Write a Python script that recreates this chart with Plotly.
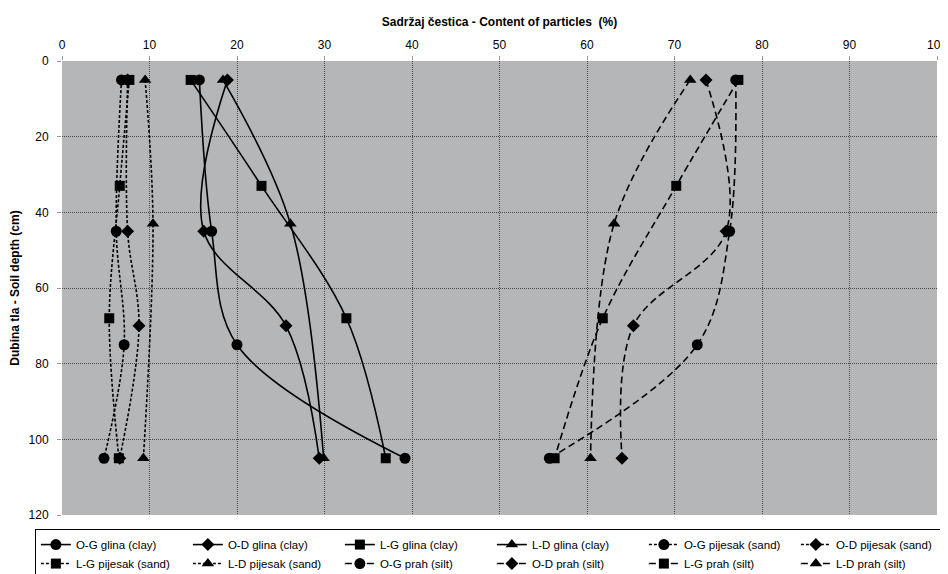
import plotly.graph_objects as go

# depths (cm) for each profile
depth_OG = [5, 45, 75, 105]
depth_OD = [5, 45, 70, 105]
depth_LG = [5, 33, 68, 105]
depth_LD = [5, 43, 105]

# clay (glina) %
clay_OG = [15.7, 17.1, 20.0, 39.2]
clay_OD = [18.9, 16.2, 25.6, 29.4]
clay_LG = [14.7, 22.8, 32.5, 37.0]
clay_LD = [18.4, 26.1, 29.9]

# sand (pijesak) %
sand_OG = [6.8, 6.2, 7.1, 4.8]
sand_OD = [7.5, 7.5, 8.8, 6.6]
sand_LG = [7.7, 6.6, 5.4, 6.5]
sand_LD = [9.5, 10.4, 9.3]

# silt (prah) %
silt_OG = [77.0, 76.3, 72.6, 55.7]
silt_OD = [73.6, 75.9, 65.3, 64.0]
silt_LG = [77.3, 70.2, 61.8, 56.3]
silt_LD = [71.8, 63.1, 60.4]

x_ticks = [0, 10, 20, 30, 40, 50, 60, 70, 80, 90, 100]
y_ticks = [0, 20, 40, 60, 80, 100, 120]

FONT = "Liberation Sans, Arial, sans-serif"

series = [
    ("O-G glina (clay)", clay_OG, depth_OG, "circle", "solid"),
    ("O-D glina (clay)", clay_OD, depth_OD, "diamond", "solid"),
    ("L-G glina (clay)", clay_LG, depth_LG, "square", "solid"),
    ("L-D glina (clay)", clay_LD, depth_LD, "triangle-up", "solid"),
    ("O-G pijesak (sand)", sand_OG, depth_OG, "circle", "3px,2px"),
    ("O-D pijesak (sand)", sand_OD, depth_OD, "diamond", "3px,2px"),
    ("L-G pijesak (sand)", sand_LG, depth_LG, "square", "3px,2px"),
    ("L-D pijesak (sand)", sand_LD, depth_LD, "triangle-up", "3px,2px"),
    ("O-G prah (silt)", silt_OG, depth_OG, "circle", "7px,4px"),
    ("O-D prah (silt)", silt_OD, depth_OD, "diamond", "7px,4px"),
    ("L-G prah (silt)", silt_LG, depth_LG, "square", "7px,4px"),
    ("L-D prah (silt)", silt_LD, depth_LD, "triangle-up", "7px,4px"),
]

sizes = {"circle": 11, "diamond": 10, "square": 10, "triangle-up": 11}

fig = go.Figure()
for name, xs, ys, sym, dash in series:
    fig.add_trace(go.Scatter(
        x=xs, y=ys, name=name, mode="lines+markers",
        line=dict(color="black", width=1.6, dash=dash, shape="spline", smoothing=1),
        marker=dict(symbol=sym, size=sizes[sym], color="black"),
    ))

fig.update_layout(
    width=940, height=566,
    margin=dict(l=54, r=11, t=53, b=59, autoexpand=False),
    paper_bgcolor="white",
    plot_bgcolor="#B4B6B8",
    font=dict(family=FONT, size=12, color="black"),
    showlegend=True,
    legend=dict(
        orientation="h",
        x=-0.031, xanchor="left",
        y=-0.031, yanchor="top",
        bordercolor="black", borderwidth=1, bgcolor="white",
        font=dict(family=FONT, size=11.5, color="black"),
        entrywidth=107, entrywidthmode="pixels",
        itemwidth=30, tracegroupgap=0,
    ),
    xaxis=dict(
        side="top", range=[0, 100], tickvals=x_ticks,
        showgrid=True, gridcolor="#4a4a4a", griddash="1px,1px", gridwidth=1,
        zeroline=False, ticks="outside", ticklen=4, tickcolor="#999",
        ticklabelstandoff=2, automargin=False,
        tickfont=dict(size=12),
        title=dict(text="<b>Sadržaj čestica - Content of particles  (%)</b>",
                   font=dict(size=12), standoff=9),
    ),
    yaxis=dict(
        range=[120, 0], tickvals=y_ticks,
        showgrid=True, gridcolor="#4a4a4a", griddash="1px,1px", gridwidth=1,
        zeroline=False, ticks="outside", ticklen=4, tickcolor="#999",
        ticklabelstandoff=6, automargin=False,
        tickfont=dict(size=12),
        title=dict(text="<b>Dubina tla - Soil depth (cm)</b>",
                   font=dict(size=12), standoff=6),
    ),
)

fig.write_html("out.html")
